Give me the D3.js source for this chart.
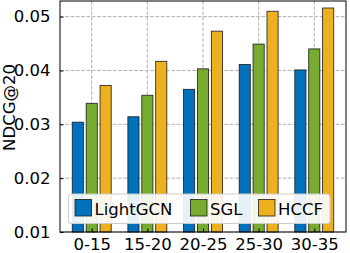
<!DOCTYPE html>
<html><head><meta charset="utf-8">
<script src="https://cdn.jsdelivr.net/npm/d3@7"></script>
<style>body{margin:0;background:#fff}svg{display:block}text{font-family:"DejaVu Sans",sans-serif}</style>
</head><body><svg id="c" width="350" height="253"></svg>
<script>
const categories = ["0-15","15-20","20-25","25-30","30-35"];
const seriesNames = ["LightGCN","SGL","HCCF"];
const lightgcn = [0.0304,0.0314,0.0365,0.0411,0.0401];
const sgl = [0.0339,0.0354,0.0403,0.0449,0.0440];
const hccf = [0.0372,0.0417,0.0473,0.0510,0.0516];
const colors = ["#0072BD","#77AC30","#EDB120"];
const yTicks = [0.01,0.02,0.03,0.04,0.05];
const series = [lightgcn, sgl, hccf];

const svg = d3.select("#c");
const L=60, R=346, T=1, B=232;
const x = d3.scaleLinear().domain([-0.57, categories.length-1+0.57]).range([L,R]);
const y = d3.scaleLinear().domain([0.01, 0.0529]).range([B,T]);
const fs = "16.5px";

// grid
const g = svg.append("g");
g.selectAll(".hg").data(yTicks).enter().append("line")
  .attr("x1",L).attr("x2",R).attr("y1",d=>y(d)).attr("y2",d=>y(d))
  .attr("stroke","#b0b0b0").attr("stroke-width",1).attr("stroke-dasharray","3.7,1.6");
g.selectAll(".vg").data(categories).enter().append("line")
  .attr("y1",T).attr("y2",B).attr("x1",(d,i)=>x(i)).attr("x2",(d,i)=>x(i))
  .attr("stroke","#b0b0b0").attr("stroke-width",1).attr("stroke-dasharray","3.7,1.6");

// bars
const bw = 0.2, off = 0.25;
series.forEach((vals,si)=>{
  svg.append("g").selectAll("rect").data(vals).enter().append("rect")
    .attr("x",(d,i)=>x(i+(si-1)*off-bw/2))
    .attr("width",x(bw)-x(0))
    .attr("y",d=>y(d))
    .attr("height",d=>B-y(d))
    .attr("fill",colors[si]).attr("stroke","#1a1a1a").attr("stroke-width",0.8);
});

// axes
const ya = d3.axisLeft(y).tickValues(yTicks).tickFormat(d3.format(".2f")).tickSizeInner(-3.5).tickSizeOuter(0).tickPadding(9.5);
const yg = svg.append("g").attr("transform",`translate(${L},0)`).call(ya);
yg.select(".domain").remove();
yg.selectAll("line").attr("stroke","#000");
yg.selectAll("text").style("font-size",fs).attr("fill","#000");

const xa = d3.axisBottom(x).tickValues(d3.range(categories.length)).tickFormat(i=>categories[i]).tickSizeInner(-3.5).tickSizeOuter(0).tickPadding(6.5);
const xg = svg.append("g").attr("transform",`translate(0,${B})`).call(xa);
xg.select(".domain").remove();
xg.selectAll("line").attr("stroke","#000");
xg.selectAll("text").style("font-size",fs).attr("fill","#000");

// frame
svg.append("rect").attr("x",L).attr("y",T).attr("width",R-L).attr("height",B-T)
  .attr("fill","none").attr("stroke","#000").attr("stroke-width",1);

// y label
svg.append("text").attr("transform",`translate(15,107.5) rotate(-90)`)
  .attr("text-anchor","middle").style("font-size",fs).text("NDCG@20");

// legend
const lg = svg.append("g");
lg.append("rect").attr("x",68.5).attr("y",194).attr("width",261.5).attr("height",29.5)
  .attr("rx",3).attr("fill","#fff").attr("fill-opacity",0.9).attr("stroke","#cccccc").attr("stroke-width",1);
const lx = [75, 190.5, 258.5];
seriesNames.forEach((n,i)=>{
  lg.append("rect").attr("x",lx[i]).attr("y",199.5).attr("width",16.5).attr("height",16.5)
    .attr("fill",colors[i]).attr("stroke","#1a1a1a").attr("stroke-width",0.8);
  lg.append("text").attr("x",lx[i]+19.5).attr("y",215).style("font-size",fs).text(n);
});
</script></body></html>
